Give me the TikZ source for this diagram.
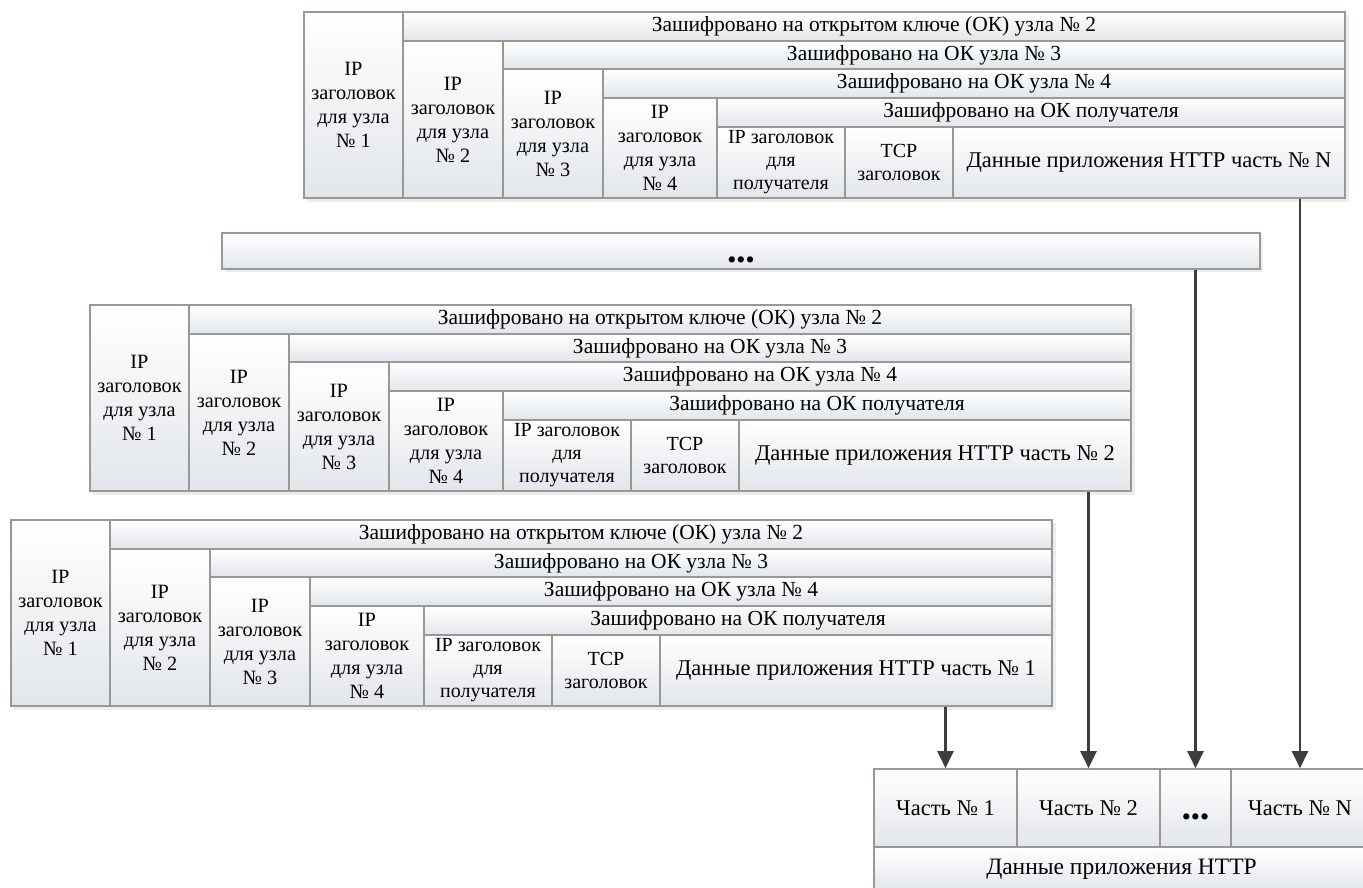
\documentclass[tikz,border=0pt]{standalone}
\usepackage{fontspec}
\setmainfont{Liberation Serif}
\usetikzlibrary{arrows.meta}
\definecolor{bordc}{RGB}{156,150,148}
\definecolor{shadc}{RGB}{226,230,234}
\definecolor{arrc}{RGB}{62,62,62}
\newcommand\pfhd{\fontsize{21.5}{22}\selectfont}
\newcommand\pfip{\fontsize{20.3}{24}\selectfont}
\newcommand\pfsm{\fontsize{20}{23}\selectfont}
\newcommand\pfbig{\fontsize{22.5}{24}\selectfont}
\newcommand\pfhttp{\fontsize{23.5}{24}\selectfont}
\newcommand\pfdots{\fontsize{26}{24}\selectfont}
\tikzset{
  cellst/.style={draw=bordc, line width=1.6pt, top color=white, bottom color=shadc,
    inner sep=0pt, align=center, text=black},
  conn/.style={draw=arrc, line width=2.2pt, -{Triangle[length=17pt,width=16pt]}},
  shadowst/.style={fill=black!7}
}
\newcommand\cellbox[7]{%
  \node[cellst, font=#6, minimum width={(#4-#2)*1pt}, minimum height={(#5-#3)*1pt}]
    (#1) at ({(#2+#4)/2},{(#3+#5)/2}) {#7};}
\newcommand\packet[4]{%
  \begin{scope}[shift={(#2,#3)}]
    \fill[shadowst] (307,15) rectangle (1349,202);
    \cellbox{#1h1}{304}{12}{403}{198}{\pfip}{IP\\заголовок\\для узла\\№ 1}
    \cellbox{#1e1}{403}{12}{1345}{41}{\pfhd}{Зашифровано на открытом ключе (ОК) узла № 2}
    \cellbox{#1h2}{403}{41}{503}{198}{\pfip}{IP\\заголовок\\для узла\\№ 2}
    \cellbox{#1e2}{503}{41}{1345}{69}{\pfhd}{Зашифровано на ОК узла № 3}
    \cellbox{#1h3}{503}{69}{603}{198}{\pfip}{IP\\заголовок\\для узла\\№ 3}
    \cellbox{#1e3}{603}{69}{1345}{98}{\pfhd}{Зашифровано на ОК узла № 4}
    \cellbox{#1h4}{603}{98}{717}{198}{\pfip}{IP\\заголовок\\для узла\\№ 4}
    \cellbox{#1e4}{717}{98}{1345}{127}{\pfhd}{Зашифровано на ОК получателя}
    \cellbox{#1rcv}{717}{127}{845}{198}{\pfsm}{IP заголовок\\для\\получателя}
    \cellbox{#1tcp}{845}{127}{953}{198}{\pfsm}{TCP\\заголовок}
    \cellbox{#1data}{953}{127}{1345}{198}{\pfbig}{Данные приложения HTTP часть № #4}
  \end{scope}}
\begin{document}
\begin{tikzpicture}[x=1pt, y=-1pt]
  \useasboundingbox (0,0) rectangle (1363,887);
  \clip (0,0) rectangle (1363,887);
  \fill[white] (0,0) rectangle (1363,887);
  % packets
  \packet{t}{0}{0}{N}
  \fill[shadowst] (225,236) rectangle (1263,272);
  \node[cellst, minimum width=1038pt, minimum height=36pt] (bar) at (741,251)
    {\smash{\raisebox{-17pt}{\pfdots •••}}};
  \packet{m}{-214}{293}{2}
  \packet{b}{-293}{508}{1}
  % reassembled data
  \cellbox{p1}{874}{769}{1017}{847}{\pfbig}{Часть № 1}
  \cellbox{p2}{1017}{769}{1160}{847}{\pfbig}{Часть № 2}
  \cellbox{pd}{1160}{769}{1231}{847}{\pfdots}{\smash{\raisebox{-17pt}{•••}}}
  \cellbox{pn}{1231}{769}{1369}{847}{\pfbig}{Часть № N}
  \cellbox{http}{874}{847}{1369}{891}{\pfhttp}{Данные приложения HTTP}
  % connectors
  \draw[conn] (p1.north |- bdata.south) -- (p1.north);
  \draw[conn] (p2.north |- mdata.south) -- (p2.north);
  \draw[conn] (pd.north |- bar.south) -- (pd.north);
  \draw[conn] (pn.north |- tdata.south) -- (pn.north);
\end{tikzpicture}
\end{document}
